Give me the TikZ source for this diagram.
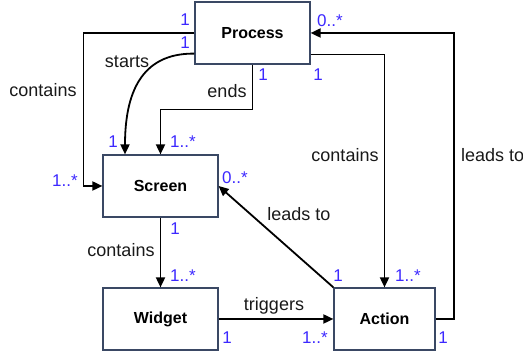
\documentclass[tikz,border=0pt]{standalone}
\usepackage{fontspec}
\setmainfont{Liberation Sans}
\usetikzlibrary{arrows.meta}
\definecolor{boxline}{RGB}{58,72,100}
\definecolor{mult}{RGB}{60,40,255}
\begin{document}
\begin{tikzpicture}[x=1pt,y=-1pt,
  cls/.style={draw=boxline,line width=1.2pt,fill=white,minimum height=62pt,inner sep=0pt,
    font=\fontsize{16}{18}\selectfont\bfseries},
  conn/.style={line width=1.8pt,-{Triangle[length=10pt,width=9pt]}},
  lbl/.style={inner sep=0pt,font=\fontsize{18}{20}\selectfont,text=black!90},
  mul/.style={inner sep=0pt,font=\fontsize{17}{19}\selectfont,text=mult}]
\useasboundingbox (0,0) rectangle (523,352);
\node[cls,minimum width=115pt] (P) at (252.5,33) {Process};
\node[cls,minimum width=115pt] (S) at (160.5,186) {Screen};
\node[cls,minimum width=115pt] (W) at (160.5,319) {Widget};
\node[cls,minimum width=101pt] (A) at (384.5,319) {Action};
\coordinate (ps) at ([yshift=11pt]P.south west);
\coordinate (pc) at ([yshift=10pt]P.south east);
\coordinate (st) at ([xshift=-35.5pt]S.north);
% Process contains Screen
\draw[conn] (P.west) -- ++(-111,0) |- (S.west);
% starts
\draw[conn] (ps) .. controls (140,53) and (125,95) .. (st);
% ends
\draw[conn] (P.south) -- ++(0,45) -| (S.north);
% Process contains Action
\draw[conn] (pc) -| (A.north);
% Action leads to Process
\draw[conn] (A.east) -- ++(18,0) |- (P.east);
% Action leads to Screen
\draw[conn] (A.north west) -- (S.east);
% Screen contains Widget
\draw[conn] (S.south) -- (W.north);
% Widget triggers Action
\draw[conn] (W.east) -- (A.west);
% labels
\node[lbl] (l1) at (43,90) {contains};
\node[lbl] (l2) at (127,62) {starts};
\node[lbl] (l3) at (227,91) {ends};
\node[lbl] (l4) at (345,155) {contains};
\node[lbl,anchor=west] (l5) at (461,155) {leads to};
\node[lbl] (l6) at (299,214) {leads to};
\node[lbl] (l7) at (121,250) {contains};
\node[lbl] (l8) at (274,306) {triggers};
% multiplicities
\node[mul] (m1) at (185,20) {1};
\node[mul] (m2) at (185,43) {1};
\node[mul] (m3) at (65,181) {1..*};
\node[mul] (m4) at (113,142) {1};
\node[mul] (m5) at (263,75) {1};
\node[mul] (m6) at (183,142) {1..*};
\node[mul] (m7) at (318,75) {1};
\node[mul] (m8) at (408,276) {1..*};
\node[mul] (m9) at (330,21) {0..*};
\node[mul] (m10) at (443,338) {1};
\node[mul] (m11) at (235,178) {0..*};
\node[mul] (m12) at (338,276) {1};
\node[mul] (m13) at (175,229) {1};
\node[mul] (m14) at (183,276) {1..*};
\node[mul] (m15) at (227,338) {1};
\node[mul] (m16) at (315,338) {1..*};
\end{tikzpicture}
\end{document}
